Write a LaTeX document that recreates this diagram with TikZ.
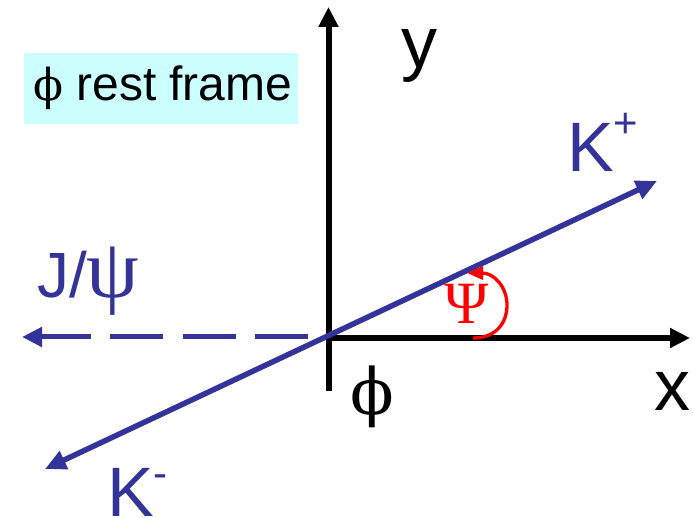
\documentclass[tikz,border=0pt]{standalone}
\usepackage{fontspec}
\setmainfont{Liberation Sans}
\newfontfamily\serifgr{Liberation Serif}
\newfontfamily\dvserif{DejaVu Serif}
\usetikzlibrary{arrows.meta}
\definecolor{kblue}{RGB}{51,51,153}
\definecolor{boxcyan}{RGB}{204,255,255}
\tikzset{
  axisline/.style={line width=6pt, black, -{Triangle[width=19pt,length=20pt]}},
  kline/.style={line width=5.5pt, kblue, {Triangle[width=19pt,length=21pt]}-{Triangle[width=19pt,length=21pt]}},
  jline/.style={line width=5pt, kblue, dash pattern=on 53pt off 19.5pt, -{Triangle[width=19pt,length=20pt]}},
  anglearc/.style={line width=3.3pt, red, -{Triangle[width=13pt,length=16pt]}},
  lbl/.style={inner sep=0pt, outer sep=0pt},
}
\begin{document}
\begin{tikzpicture}[x=1pt,y=-1pt]
\useasboundingbox (0,0) rectangle (693,518);
% frame label box
\node[lbl, fill=boxcyan, minimum width=274pt, minimum height=71pt, anchor=north west] (box) at (24,53) {};
\node[lbl, anchor=base west] (boxtxt) at (33,101) {{\dvserif\fontsize{44}{44}\selectfont ϕ}\fontsize{48}{48}\selectfont\ rest frame};
% coordinates
\coordinate (O) at (328.5,338);
\coordinate (yb) at (328.5,391);
\coordinate (yt) at (328.5,7);
\coordinate (xs) at (325.5,338);
\coordinate (xt) at (690,338);
\coordinate (js) at (308,337);
\coordinate (jt) at (22,337);
\coordinate (kp) at (657,181);
\coordinate (km) at (45,469);
\coordinate (as) at (473,338);
\coordinate (ae) at (467,273);
% axes
\draw[axisline] (yb) -- (yt);
\draw[axisline] (xs) -- (xt);
% J/psi dashed
\draw[jline] (js) -- (jt);
% K line
\draw[kline] (km) -- (kp);
% angle arc
\draw[anglearc] (as) .. controls (497,338) and (507,322) .. (507,305) .. controls (507,287) and (494,273) .. (ae);
% labels
\node[lbl, anchor=base] (ylab) at (419,68) {\fontsize{72}{72}\selectfont y};
\node[lbl, anchor=base] (xlab) at (672,410) {\fontsize{72}{72}\selectfont x};
\node[lbl, anchor=base west, text=kblue] (kplus) at (567,172) {\fontsize{70}{70}\selectfont K\raisebox{34pt}{\fontsize{42}{42}\selectfont +}};
\node[lbl, anchor=base west, text=kblue] (kminus) at (107,516) {\fontsize{70}{70}\selectfont K\raisebox{29pt}{\fontsize{42}{42}\selectfont -}};
\node[lbl, anchor=base west, text=kblue] (jpsi) at (37,298) {\fontsize{64}{64}\selectfont J/{\serifgr\fontsize{84}{84}\selectfont ψ}};
\node[lbl, text=red] (psilab) at (467,304) {\serifgr\fontsize{60}{60}\selectfont Ψ};
\node[lbl, anchor=base] (philab) at (372,414) {\dvserif\fontsize{64}{64}\selectfont ϕ};
\end{tikzpicture}
\end{document}
